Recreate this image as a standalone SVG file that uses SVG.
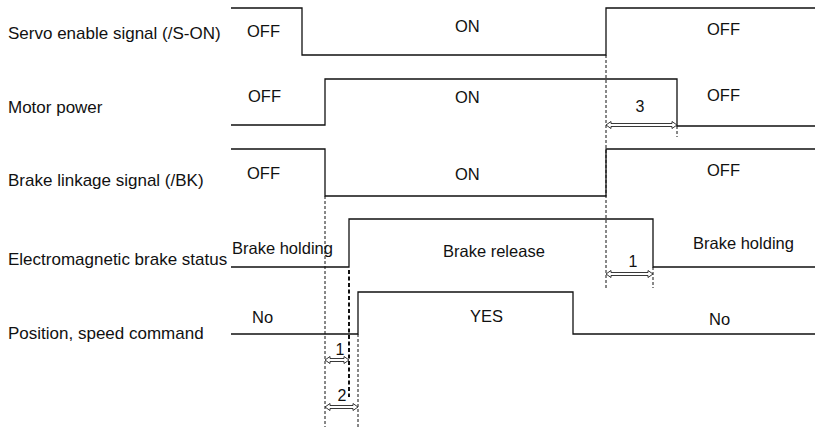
<svg xmlns="http://www.w3.org/2000/svg" width="815" height="427" viewBox="0 0 815 427">
<style>
.bg{fill:#fff}
.sig{fill:none;stroke:#111;stroke-width:1.3}
.dash{fill:none;stroke:#111;stroke-width:1;stroke-dasharray:3 2}
.dashb{fill:none;stroke:#111;stroke-width:2;stroke-dasharray:4 2.5}
.arr{fill:#fff;stroke:#222;stroke-width:0.9}
.lbl{font-family:"Liberation Sans",Arial,sans-serif;font-size:17px;fill:#111}
.st{font-family:"Liberation Sans",Arial,sans-serif;font-size:16.5px;fill:#111}
.num{font-family:"Liberation Sans",Arial,sans-serif;font-size:16px;fill:#111;text-anchor:middle}
</style>
<rect class="bg" x="0" y="0" width="815" height="427"/>
<g id="labels">
<text class="lbl" x="8" y="39">Servo enable signal (/S-ON)</text>
<text class="lbl" x="8" y="113">Motor power</text>
<text class="lbl" x="8" y="186">Brake linkage signal (/BK)</text>
<text class="lbl" x="8" y="265">Electromagnetic brake status</text>
<text class="lbl" x="8" y="339">Position, speed command</text>
</g>
<g id="servo-enable">
<polyline class="sig" points="231,8 302,8 302,55 606,55 606,8 815,8"/>
<text class="st" x="247" y="37">OFF</text>
<text class="st" x="455" y="32">ON</text>
<text class="st" x="707" y="35">OFF</text>
</g>
<g id="motor-power">
<polyline class="sig" points="231,125 325,125 325,79 677,79 677,126 815,126"/>
<text class="st" x="248" y="102">OFF</text>
<text class="st" x="455" y="103">ON</text>
<text class="st" x="707" y="101">OFF</text>
</g>
<g id="brake-linkage">
<polyline class="sig" points="231,149 325,149 325,196 606,196 606,149 815,149"/>
<text class="st" x="247" y="179">OFF</text>
<text class="st" x="455" y="180">ON</text>
<text class="st" x="707" y="176">OFF</text>
</g>
<g id="brake-status">
<polyline class="sig" points="231,267 349,267 349,219 653,219 653,267 815,267"/>
<text class="st" x="232" y="254">Brake holding</text>
<text class="st" x="443" y="257">Brake release</text>
<text class="st" x="693" y="249">Brake holding</text>
</g>
<g id="position-command">
<polyline class="sig" points="231,334 358,334 358,292 573,292 573,334 815,334"/>
<text class="st" x="252" y="323">No</text>
<text class="st" x="470" y="322">YES</text>
<text class="st" x="709" y="325">No</text>
</g>
<g id="connectors">
<line class="dash" x1="606" y1="55" x2="606" y2="288"/>
<line class="dash" x1="677" y1="126" x2="677" y2="137"/>
<line class="dash" x1="653" y1="267" x2="653" y2="288"/>
<line class="dash" x1="325" y1="196" x2="325" y2="427"/>
<line class="dashb" x1="349" y1="270" x2="349" y2="397"/>
<line class="dash" x1="358" y1="334" x2="358" y2="427"/>
<path class="arr" d="M606,125 L611,121.5 L611,123.5 L672,123.5 L672,121.5 L677,125 L672,128.5 L672,126.5 L611,126.5 L611,128.5 Z"/>
<path class="arr" d="M606,274 L611,270.5 L611,272.5 L648,272.5 L648,270.5 L653,274 L648,277.5 L648,275.5 L611,275.5 L611,277.5 Z"/>
<path class="arr" d="M325,360 L330,356.5 L330,358.5 L344,358.5 L344,356.5 L349,360 L344,363.5 L344,361.5 L330,361.5 L330,363.5 Z"/>
<path class="arr" d="M325,407 L330,403.5 L330,405.5 L353,405.5 L353,403.5 L358,407 L353,410.5 L353,408.5 L330,408.5 L330,410.5 Z"/>
<text class="num" x="640" y="112">3</text>
<text class="num" x="633" y="267">1</text>
<text class="num" x="340" y="355">1</text>
<text class="num" x="342" y="401">2</text>
</g>
</svg>
